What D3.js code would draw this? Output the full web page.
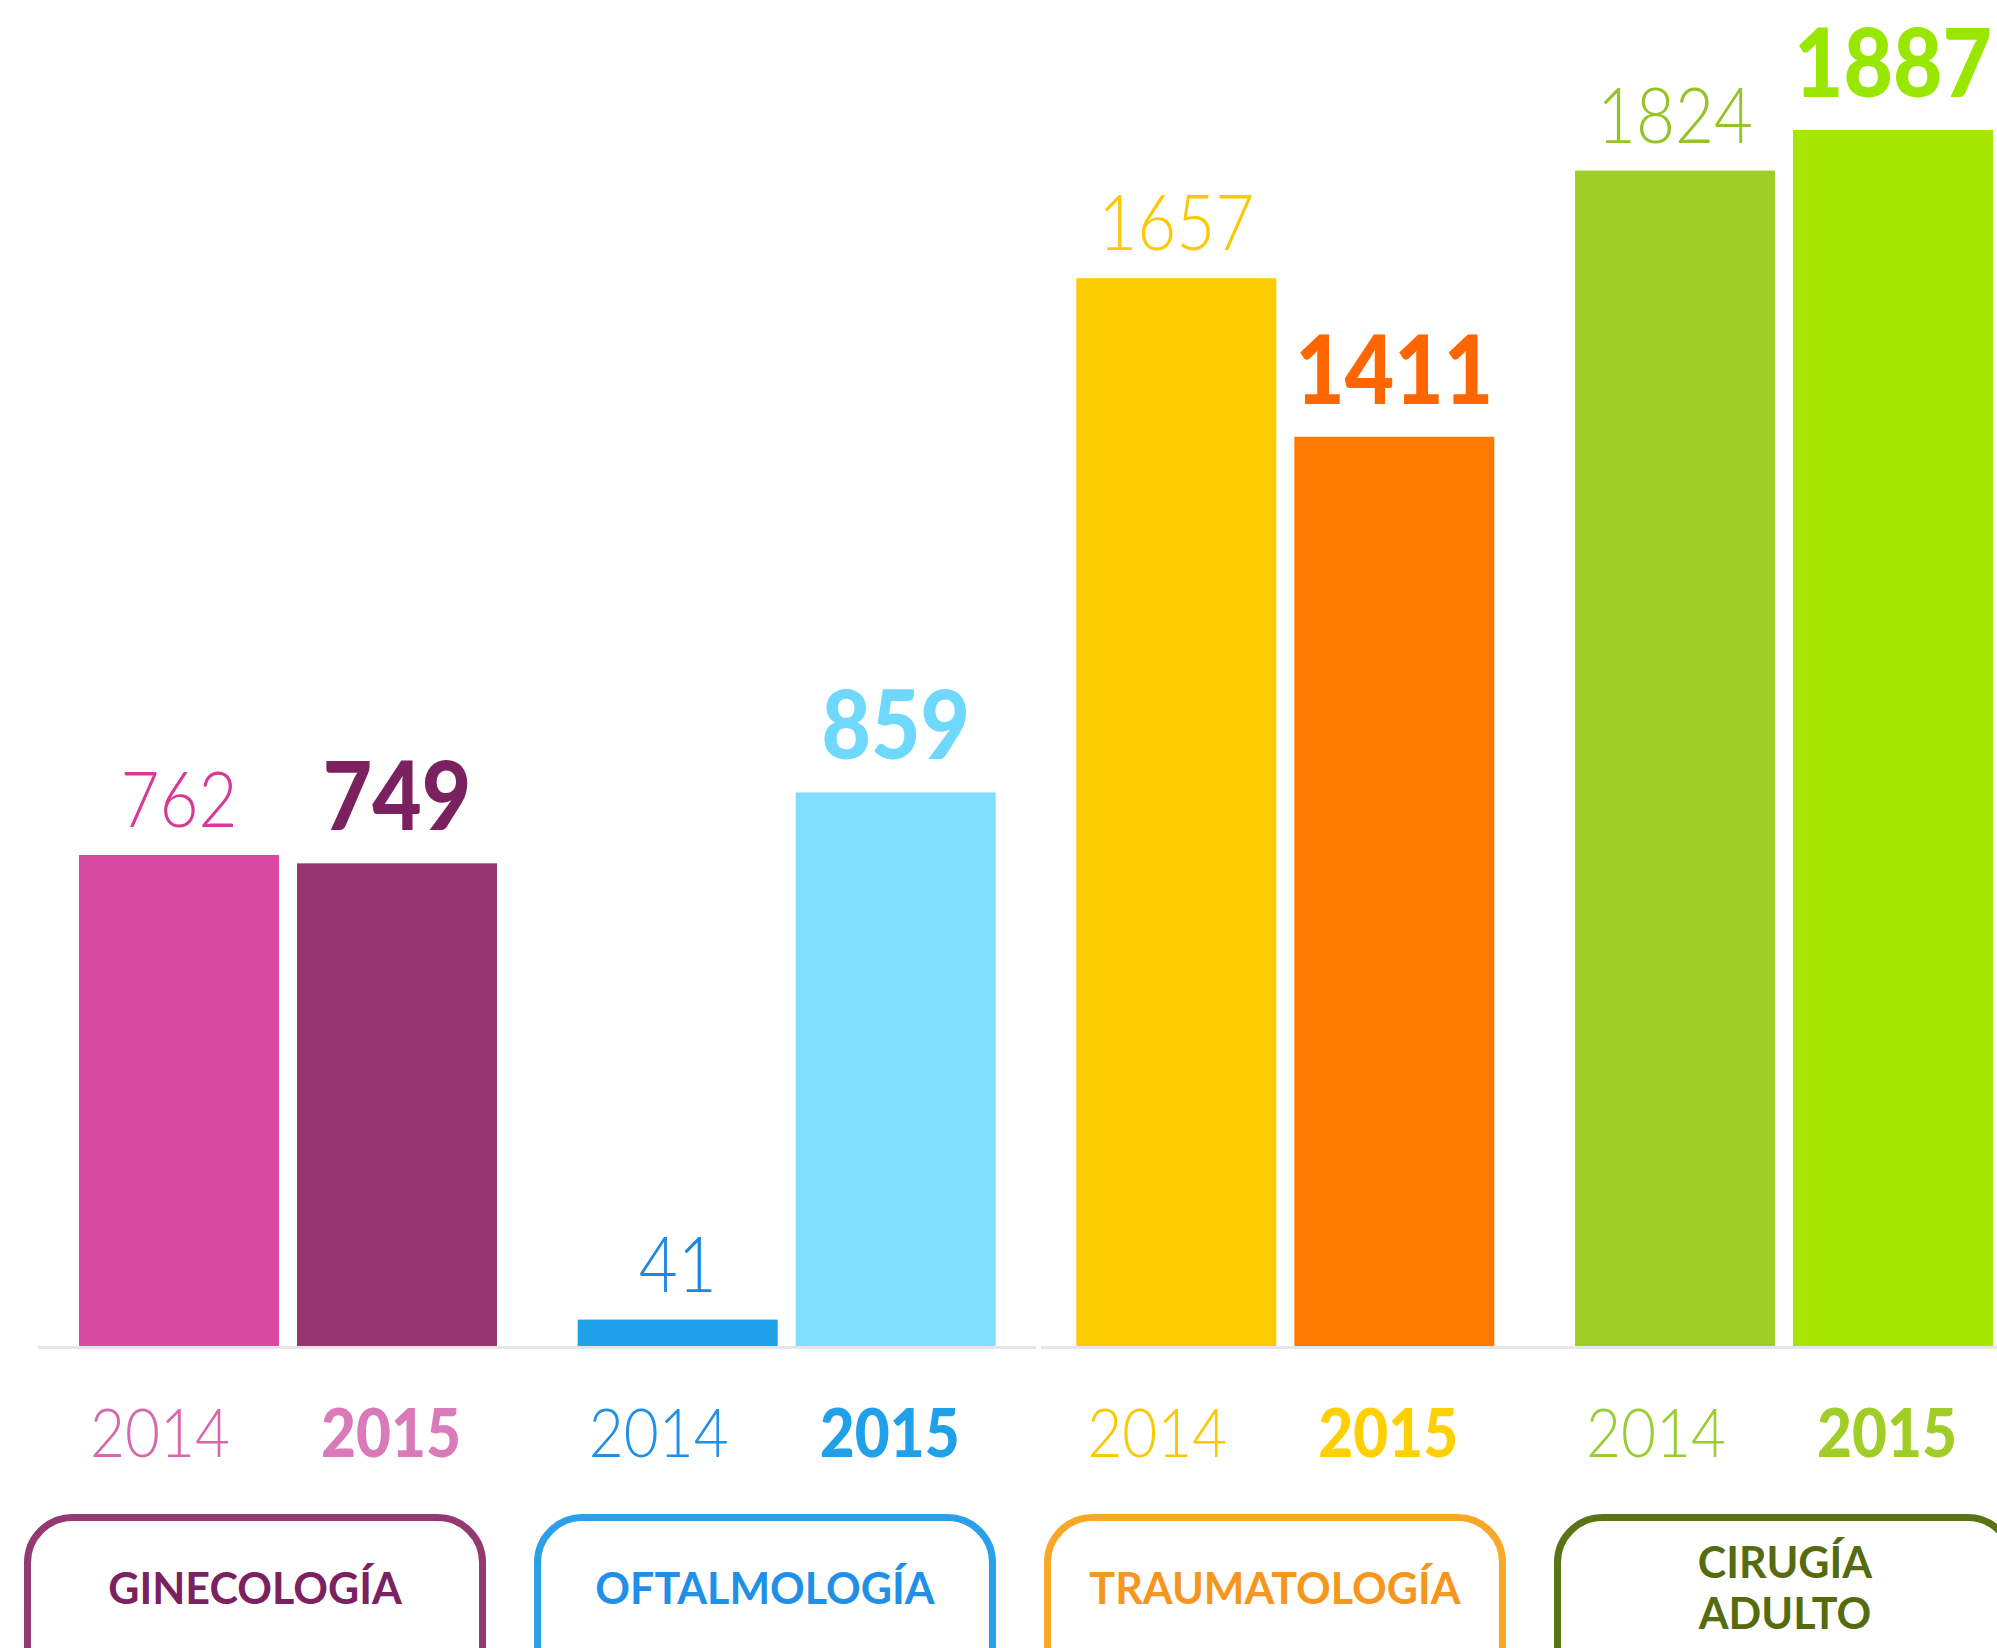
<!DOCTYPE html>
<html>
<head>
<meta charset="utf-8">
<script src="https://cdn.jsdelivr.net/npm/d3@7"></script>
<style>
  html, body { margin: 0; padding: 0; background: #ffffff; }
  svg { display: block; }
</style>
</head>
<body>
<svg id="chart" width="1997" height="1648"></svg>
<script>
// data
const categories = ["GINECOLOGÍA", "OFTALMOLOGÍA", "TRAUMATOLOGÍA", "CIRUGÍA ADULTO"];
const categoryLines = [["GINECOLOGÍA"], ["OFTALMOLOGÍA"], ["TRAUMATOLOGÍA"], ["CIRUGÍA", "ADULTO"]];
const years = ["2014", "2015"];
const values2014 = [762, 41, 1657, 1824];
const values2015 = [749, 859, 1411, 1887];

// colours per category, [2014, 2015]
const barColors = [["#d84a9f", "#96356f"], ["#1fa0e8", "#80deff"], ["#fccc00", "#ff7a00"], ["#a0ce26", "#a6e600"]];
const valueColors = [["#d63a96", "#7b2160"], ["#1e88e0", "#6ed8ff"], ["#fcc800", "#ff6600"], ["#96c328", "#99e600"]];
const yearColors = [["#d668ae", "#da7ab8"], ["#2090e8", "#1fa0e8"], ["#fcc800", "#ffd000"], ["#9acd32", "#a0ce26"]];
const boxColors = ["#943a72", "#2ba0e8", "#f8a828", "#5a7414"];
const boxTextColors = ["#7b2160", "#1f8fe8", "#f5961e", "#556b0e"];

const svg = d3.select("#chart");
const baseY = 1346;

//Build a flat table from the arrays
const rows = [];
categories.forEach((c, i) => {
    rows.push({ cat: c, ci: i, year: years[0], yi: 0, value: values2014[i] });
    rows.push({ cat: c, ci: i, year: years[1], yi: 1, value: values2015[i] });
});

//scales
const x0 = d3.scaleBand().domain(categories).range([79, 1993]).paddingInner(0.1618).paddingOuter(0);
const x1 = d3.scaleBand().domain(years).range([0, x0.bandwidth()]).paddingInner(0.0826).paddingOuter(0);
const y = d3.scaleLinear().domain([0, d3.max(values2015.concat(values2014))]).range([baseY, 130]);
const xBox = d3.scaleBand().domain(categories).range([27.5, 2012.5]).paddingInner(0.1078).paddingOuter(0);

//baseline, broken between the second and third group
svg.append("g")
    .selectAll("line")
    .data([[38, 1036], [1041, 1997]])
    .join("line")
    .attr("x1", d => d[0])
    .attr("x2", d => d[1])
    .attr("y1", baseY + 1.5)
    .attr("y2", baseY + 1.5)
    .attr("stroke", "#e6e6e6")
    .attr("stroke-width", 3);

//bars
svg.append("g")
    .selectAll("rect")
    .data(rows)
    .join("rect")
    .attr("x", d => x0(d.cat) + x1(d.year))
    .attr("y", d => y(d.value))
    .attr("width", x1.bandwidth())
    .attr("height", d => baseY - y(d.value))
    .attr("fill", d => barColors[d.ci][d.yi]);

//value labels: 2014 light, 2015 heavy (the original face is narrower than Lato)
svg.append("g")
    .selectAll("text")
    .data(rows)
    .join("text")
    .attr("x", d => x0(d.cat) + x1(d.year) + x1.bandwidth() / 2)
    .attr("y", d => y(d.value) - (d.yi === 0 ? 28 : 33))
    .attr("text-anchor", "middle")
    .attr("font-family", "Lato, sans-serif")
    .attr("font-weight", d => d.yi === 0 ? 300 : 900)
    .attr("font-size", d => d.yi === 0 ? 76 : 96)
    .attr("textLength", d => String(d.value).length * (d.yi === 0 ? 39 : 49.5))
    .attr("lengthAdjust", "spacingAndGlyphs")
    .attr("fill", d => valueColors[d.ci][d.yi])
    .text(d => d.value);

//year labels under the bars
svg.append("g")
    .selectAll("text")
    .data(rows)
    .join("text")
    .attr("x", d => x0(d.cat) + x1(d.year) + x1.bandwidth() / 2 + (d.yi === 0 ? -19 : -6))
    .attr("y", 1457)
    .attr("text-anchor", "middle")
    .attr("font-family", "Lato, sans-serif")
    .attr("font-weight", d => d.yi === 0 ? 300 : 900)
    .attr("font-size", 67)
    .attr("textLength", 140)
    .attr("lengthAdjust", "spacingAndGlyphs")
    .attr("fill", d => yearColors[d.ci][d.yi])
    .text(d => d.year);

//category boxes
const boxes = svg.append("g")
    .selectAll("g")
    .data(categories)
    .join("g");

boxes.append("rect")
    .attr("x", d => xBox(d))
    .attr("y", 1517.5)
    .attr("width", xBox.bandwidth())
    .attr("height", 220)
    .attr("rx", 45)
    .attr("ry", 45)
    .attr("fill", "none")
    .attr("stroke", (d, i) => boxColors[i])
    .attr("stroke-width", 7);

boxes.append("text")
    .attr("text-anchor", "middle")
    .attr("font-family", "Lato, sans-serif")
    .attr("font-weight", 700)
    .attr("font-size", 43)
    .attr("fill", (d, i) => boxTextColors[i])
    .each(function(d, i) {
        const lines = categoryLines[i];
        const cx = xBox(d) + xBox.bandwidth() / 2;
        const firstY = lines.length === 1 ? 1604 : 1578;
        d3.select(this)
            .selectAll("tspan")
            .data(lines)
            .join("tspan")
            .attr("x", cx)
            .attr("y", (l, j) => firstY + j * 51)
            .text(l => l);
    });
</script>
</body>
</html>
